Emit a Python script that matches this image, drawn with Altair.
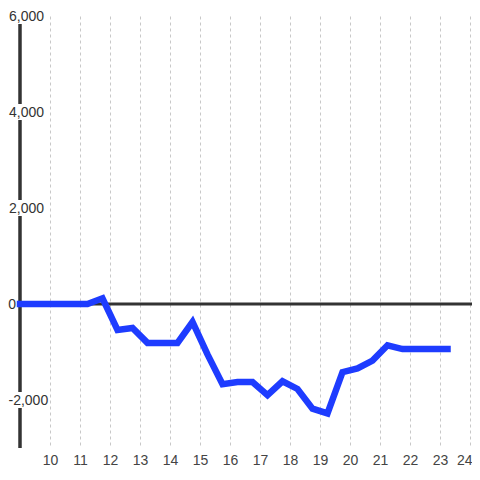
import altair as alt
import pandas as pd

hours = [9.0, 9.25, 9.75, 10.25, 10.75, 11.25, 11.75, 12.25, 12.75, 13.25, 13.75,
         14.25, 14.75, 15.25, 15.75, 16.25, 16.75, 17.25, 17.75, 18.25, 18.75,
         19.25, 19.75, 20.25, 20.75, 21.25, 21.75, 22.25, 22.75, 23.25]
values = [0, 0, 0, 0, 0, 0, 120, -540, -500, -810, -810,
          -810, -375, -1050, -1670, -1625, -1625, -1900, -1610, -1770, -2180,
          -2280, -1420, -1340, -1180, -860, -940, -940, -940, -940]

y_label_values = [2000, 4000, 6000]
y_label_texts = ["2,000", "4,000", "6,000"]
neg_value = [-2000]
neg_text = ["-2,000"]
zero_value = [0]
zero_text = ["0"]
x_ticks = list(range(10, 25))
y_grid = list(range(-3000, 7000, 1000))

df = pd.DataFrame({"hour": hours, "value": values})
lab = pd.DataFrame({"v": y_label_values, "t": y_label_texts})
nlab = pd.DataFrame({"v": neg_value, "t": neg_text})
all_lab = pd.concat([lab, nlab], ignore_index=True)
zlab = pd.DataFrame({"v": zero_value, "t": zero_text})

FONT = "Liberation Sans"
W, H = 452, 432
xs = alt.Scale(domain=[9, 9 + W / 30.0], nice=False, zero=False)
ys = alt.Scale(domain=[-3000, 6000], nice=False, zero=False)

line = alt.Chart(df).mark_line(color="#1e3cff", strokeWidth=6.5, strokeCap="square").encode(
    x=alt.X("hour:Q", scale=xs, axis=alt.Axis(
        values=x_ticks, grid=True, gridDash=[3, 3], gridColor="#c8c8c8", gridWidth=1,
        domain=False, ticks=False, labelFontSize=14, labelColor="#444",
        labelPadding=5, labelFont=FONT, title=None,
        labelFlush=4, labelFlushOffset=2)),
    y=alt.Y("value:Q", scale=ys, axis=alt.Axis(
        values=y_grid, grid=True, gridColor="#c8c8c8", gridWidth=1,
        labels=False, ticks=False, domain=False, title=None)),
)

axis_rule = alt.Chart(zlab).mark_rule(color="#333", strokeWidth=3.5).encode(
    x=alt.value(0), y=alt.value(0), y2=alt.value(H)
)

boxes = alt.Chart(all_lab).mark_point(
    shape="M-1,-0.39L1,-0.39L1,0.39L-1,0.39Z", filled=True, fill="white",
    stroke=None, opacity=1, size=1681
).encode(
    x=alt.value(6), y=alt.Y("v:Q", scale=ys, axis=None)
)

texts = alt.Chart(lab).mark_text(
    align="right", baseline="middle", fontSize=14, font=FONT, color="#333", dy=1
).encode(
    x=alt.value(24), y=alt.Y("v:Q", scale=ys, axis=None), text="t:N"
)

ntext = alt.Chart(nlab).mark_text(
    align="left", baseline="middle", fontSize=14, font=FONT, color="#333", dy=1
).encode(
    x=alt.value(-11.5), y=alt.Y("v:Q", scale=ys, axis=None), text="t:N"
)

ztext = alt.Chart(zlab).mark_text(
    align="right", baseline="middle", fontSize=14, font=FONT, color="#333", dy=1
).encode(
    x=alt.value(-4), y=alt.Y("v:Q", scale=ys, axis=None), text="t:N"
)

zero_rule = alt.Chart(zlab).mark_rule(color="#333", strokeWidth=3).encode(
    y=alt.Y("v:Q", scale=ys, axis=None), x=alt.value(0), x2=alt.value(W)
)

chart = alt.layer(axis_rule, boxes, texts, ntext, ztext, zero_rule, line).properties(
    width=W, height=H,
    autosize=alt.AutoSizeParams(type="none"),
    padding={"left": 12, "top": 8, "right": 0, "bottom": 24},
    background="white",
).configure_view(stroke=None)

chart.save("out.html", embed_options={"renderer": "svg", "actions": False})
